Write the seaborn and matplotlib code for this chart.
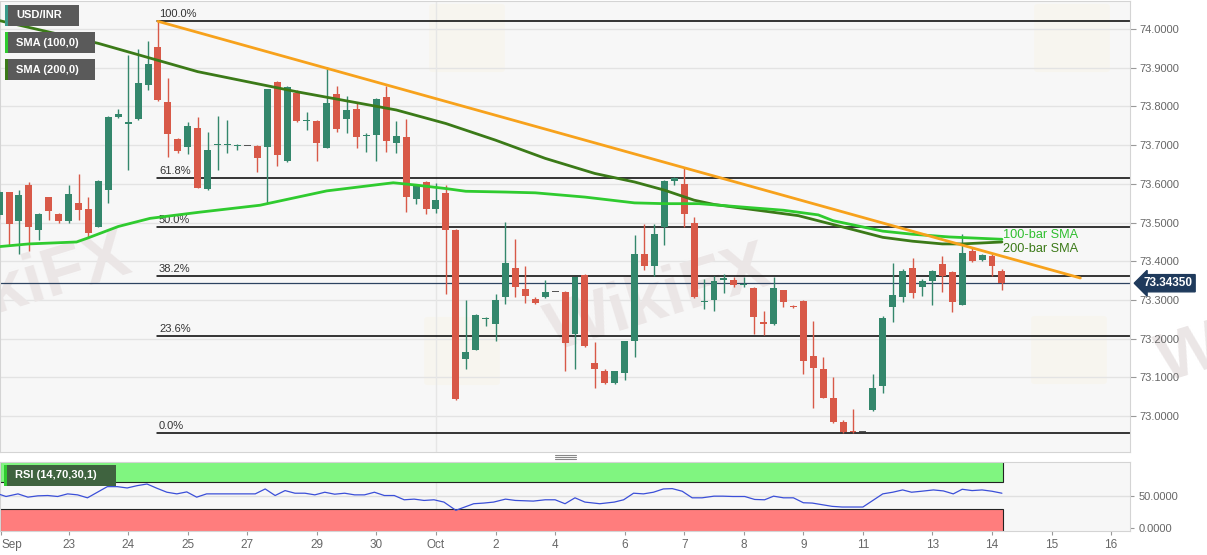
import matplotlib
matplotlib.use("Agg")
import matplotlib.pyplot as plt
from matplotlib.patches import Rectangle, FancyBboxPatch
from matplotlib.lines import Line2D
import seaborn as sns
import pandas as pd

# --- velas 4H USD/INR ---
opens = [73.520, 73.579, 73.504, 73.597, 73.480, 73.565, 73.523, 73.503, 73.551, 73.535,
         73.490, 73.585, 73.774, 73.754, 73.767, 73.855, 73.953, 73.811, 73.716, 73.696,
         73.745, 73.587, 73.700, 73.700, 73.698, 73.698, 73.698, 73.696, 73.864, 73.659,
         73.834, 73.763, 73.763, 73.694, 73.832, 73.767, 73.794, 73.723, 73.726, 73.824,
         73.706, 73.722, 73.562, 73.605, 73.536, 73.577, 73.482, 73.149, 73.172, 73.252,
         73.238, 73.307, 73.382, 73.329, 73.303, 73.307, 73.321, 73.321, 73.212, 73.366,
         73.138, 73.117, 73.085, 73.111, 73.193, 73.420, 73.389, 73.490, 73.608, 73.601,
         73.499, 73.294, 73.301, 73.353, 73.352, 73.338, 73.331, 73.243, 73.238, 73.325,
         73.284, 73.297, 73.156, 73.122, 73.048, 72.984, 72.962, 72.958, 73.015, 73.077,
         73.281, 73.307, 73.382, 73.333, 73.350, 73.392, 73.372, 73.288, 73.426, 73.404,
         73.415, 73.376]
highs = [73.585, 73.580, 73.585, 73.605, 73.525, 73.567, 73.525, 73.597, 73.625, 73.566,
         73.610, 73.776, 73.793, 73.933, 73.948, 73.970, 74.020, 73.873, 73.718, 73.761,
         73.772, 73.735, 73.775, 73.765, 73.703, 73.698, 73.700, 73.846, 73.867, 73.853,
         73.843, 73.787, 73.765, 73.903, 73.853, 73.826, 73.810, 73.732, 73.821, 73.853,
         73.763, 73.768, 73.600, 73.607, 73.603, 73.598, 73.484, 73.299, 73.265, 73.255,
         73.316, 73.502, 73.459, 73.388, 73.307, 73.352, 73.321, 73.323, 73.360, 73.368,
         73.191, 73.122, 73.118, 73.195, 73.467, 73.496, 73.496, 73.610, 73.618, 73.640,
         73.515, 73.355, 73.361, 73.368, 73.360, 73.359, 73.333, 73.271, 73.359, 73.327,
         73.286, 73.300, 73.245, 73.154, 73.100, 72.990, 73.018, 72.958, 73.110, 73.258,
         73.395, 73.381, 73.409, 73.355, 73.378, 73.414, 73.375, 73.471, 73.438, 73.419,
         73.420, 73.381]
lows = [73.510, 73.441, 73.420, 73.428, 73.454, 73.506, 73.500, 73.500, 73.508, 73.463,
        73.488, 73.551, 73.770, 73.637, 73.765, 73.843, 73.815, 73.670, 73.679, 73.676,
        73.590, 73.585, 73.635, 73.679, 73.688, 73.698, 73.631, 73.551, 73.646, 73.657,
        73.760, 73.739, 73.659, 73.692, 73.735, 73.731, 73.694, 73.683, 73.659, 73.683,
        73.680, 73.528, 73.549, 73.521, 73.526, 73.316, 73.042, 73.122, 73.170, 73.234,
        73.195, 73.290, 73.309, 73.293, 73.291, 73.306, 73.321, 73.116, 73.122, 73.180,
        73.074, 73.083, 73.083, 73.093, 73.154, 73.378, 73.361, 73.443, 73.597, 73.490,
        73.305, 73.277, 73.273, 73.318, 73.335, 73.333, 73.212, 73.211, 73.236, 73.281,
        73.279, 73.109, 73.021, 73.046, 72.982, 72.956, 72.956, 72.958, 73.013, 73.059,
        73.243, 73.294, 73.306, 73.310, 73.286, 73.320, 73.268, 73.286, 73.399, 73.402,
        73.361, 73.326]
closes = [73.579, 73.497, 73.572, 73.489, 73.523, 73.529, 73.503, 73.575, 73.532, 73.473,
          73.607, 73.774, 73.780, 73.761, 73.860, 73.909, 73.817, 73.730, 73.685, 73.749,
          73.590, 73.687, 73.703, 73.701, 73.699, 73.698, 73.666, 73.844, 73.674, 73.851,
          73.763, 73.764, 73.705, 73.810, 73.741, 73.791, 73.722, 73.724, 73.819, 73.711,
          73.724, 73.565, 73.597, 73.535, 73.558, 73.482, 73.044, 73.167, 73.262, 73.253,
          73.300, 73.396, 73.335, 73.310, 73.293, 73.321, 73.321, 73.188, 73.359, 73.182,
          73.122, 73.085, 73.116, 73.193, 73.420, 73.387, 73.470, 73.608, 73.616, 73.523,
          73.307, 73.296, 73.349, 73.355, 73.339, 73.340, 73.257, 73.238, 73.331, 73.296,
          73.281, 73.142, 73.124, 73.048, 72.984, 72.960, 72.958, 72.958, 73.074, 73.253,
          73.312, 73.374, 73.318, 73.350, 73.374, 73.361, 73.294, 73.421, 73.402, 73.417,
          73.387, 73.3435]

# medias moviles
sma100_x = [0, 3, 7.8, 8.8, 12, 15.2, 20.2, 26.3, 27, 33, 39.7, 42, 45, 47, 51, 54, 59,
            64, 67, 70.5, 74, 79, 82.5, 84, 89, 92, 95.7, 101]
sma100_y = [73.438, 73.445, 73.450, 73.459, 73.490, 73.511, 73.527, 73.545, 73.549, 73.582,
            73.603, 73.597, 73.588, 73.581, 73.579, 73.577, 73.566, 73.551, 73.549, 73.549,
            73.542, 73.532, 73.520, 73.505, 73.478, 73.470, 73.463, 73.457]
sma200_x = [0, 10, 20, 30, 40, 45, 50, 55, 60, 64, 67, 70, 72, 77, 80.5, 84, 86, 89, 92,
            95, 97, 101]
sma200_y = [74.022, 73.963, 73.890, 73.838, 73.791, 73.756, 73.713, 73.666, 73.627, 73.605,
            73.584, 73.558, 73.547, 73.530, 73.518, 73.495, 73.482, 73.462, 73.452, 73.445,
            73.445, 73.450]

# linea de tendencia bajista
trend_x = [16, 108.9]
trend_y = [74.020, 73.357]

# Fibonacci
fib_high = 74.021
fib_low = 72.956
fib_ratios = [1.0, 0.618, 0.5, 0.382, 0.236, 0.0]
fib_labels = ["100.0%", "61.8%", "50.0%", "38.2%", "23.6%", "0.0%"]

last_price = 73.3435

# RSI
rsi_x = [-0.1, 0.7, 1.9, 2.9, 3.9, 4.9, 5.9, 6.9, 7.9, 8.9, 9.9, 10.9, 11.9, 12.9, 13.9,
         14.9, 15.9, 16.9, 17.9, 18.9, 19.9, 20.9, 25.8, 26.8, 27.8, 28.8, 29.8, 30.8,
         31.8, 32.8, 33.8, 34.8, 35.8, 36.8, 37.8, 38.8, 39.8, 40.8, 41.8, 42.8, 43.8,
         44.8, 46.0, 47.8, 48.8, 49.8, 51.0, 52.0, 53.8, 55.0, 56.0, 57.0, 58.0, 59.0,
         60.5, 61.96, 62.9, 63.9, 64.9, 65.9, 66.9, 67.8, 68.8, 69.8, 70.8, 72.0, 72.9,
         73.9, 75.1, 76.1, 77.1, 78.0, 79.0, 80.0, 81.0, 81.9, 82.9, 83.9, 84.9, 85.9,
         87.0, 88.0, 89.0, 90.0, 91.0, 91.9, 92.9, 94.1, 95.1, 96.1, 97.0, 98.0, 99.0,
         100.0, 101.0]
rsi_y = [52.5, 48.5, 52.5, 47.5, 49.5, 50, 48.5, 52.5, 51, 46.5, 55, 63.5, 63.5, 61.5, 65,
         67.5, 61, 55, 52.5, 55.5, 47.5, 52.5, 52.5, 60, 50, 57.5, 53.5, 53.5, 51, 55, 52,
         53.5, 51, 51, 55, 50, 50, 43.5, 44.5, 42.5, 43.5, 40, 27.5, 37.5, 38.5, 40, 44.5,
         42.5, 41.5, 43.5, 43.5, 37.5, 46.5, 40, 37.5, 40, 43.5, 53.5, 52.5, 55, 60, 60.5,
         56.5, 46.5, 46.5, 49, 49, 48.5, 48.5, 44, 43.5, 49, 46.5, 46.5, 39, 38.5, 36,
         33.5, 32.5, 32.5, 32.5, 42.5, 52.5, 55, 58.5, 55, 56.5, 58.5, 57, 52.5, 59.5,
         57.5, 58.5, 56.5, 53.5]

tick_pos = [0.2, 7, 13, 19, 25, 32, 38, 44, 50, 56, 63, 69, 75, 81, 87, 94, 100, 106, 112]
tick_lab = ["Sep", "23", "24", "25", "27", "29", "30", "Oct", "2", "4", "6", "7", "8", "9",
            "11", "13", "14", "15", "16"]

sns.set_style("white")
plt.rcParams["font.family"] = ["Liberation Sans", "DejaVu Sans"]

W, H = 1207, 555
fig = plt.figure(figsize=(W / 100, H / 100), dpi=100)
fig.patch.set_facecolor("white")


def fbox(x0, y0, x1, y1):
    return [x0 / W, 1 - y1 / H, (x1 - x0) / W, (y1 - y0) / H]


ax = fig.add_axes(fbox(0, 1, 1130, 452))
ax2 = fig.add_axes(fbox(0, 462, 1130, 531))
XL = (0.09, 113.9)

green = "#34876c"
red = "#d85948"

# logos de fondo (muy tenues, detras de los ejes)
for (lx, ly) in [(428, 0), (1033, 0), (423, 313), (1030, 312)]:
    fig.add_artist(FancyBboxPatch(((lx + 6) / W, 1 - (ly + 70) / H), 66 / W, 64 / H,
                                  boxstyle="round,pad=0.004", transform=fig.transFigure,
                                  fc="#f6dc8c", ec="none", alpha=0.6, zorder=-5))

# --- panel principal ---
ax.set_facecolor("#f7f7f7")
ax.patch.set_alpha(0.88)
ax.set_xlim(*XL)
ax.set_ylim(72.9075, 74.0725)
yt = [73.0 + 0.1 * k for k in range(11)]
ax.set_yticks(yt)
ax.set_yticklabels([f"{v:.4f}" for v in yt])
ax.yaxis.tick_right()
ax.tick_params(axis="y", colors="#999999", labelcolor="#666666", labelsize=8,
               length=4, pad=3, right=True)
ax.set_xticks([])
for v in yt:
    ax.axhline(v, color="#e3e3e3", lw=1, zorder=0)
ax.axvline(44, color="#e6e6e6", lw=1, zorder=0)
for s in ax.spines.values():
    s.set_color("#d4d4d4")

# marcas de agua
wm = dict(fontsize=50, fontweight="bold", color="#ebe6e6", rotation=17,
          ha="center", va="center", zorder=0.5)
ax.text(2, 73.33, "WikiFX", clip_on=True, **wm)
ax.text(66.5, 73.30, "WikiFX", clip_on=True, **wm)
ax.text(128, 73.22, "WikiFX", clip_on=False, **wm)

# Fibonacci
for r, lab in zip(fib_ratios, fib_labels):
    lvl = fib_low + r * (fib_high - fib_low)
    ax.plot([15.9, XL[1]], [lvl, lvl], color="black", lw=1.1, zorder=2)
    ax.annotate(lab, (16.1, lvl), xytext=(0, 1.5), textcoords="offset points",
                fontsize=8, color="#333333", ha="left", va="bottom")

# precio actual
ax.axhline(last_price, color="#2d4361", lw=0.9, zorder=2)

# velas
df = pd.DataFrame({"o": opens, "h": highs, "l": lows, "c": closes})
df["x"] = range(len(df))
cols = []
for o, c in zip(df.o, df.c):
    if abs(c - o) < 0.0006:
        cols.append("#555555")
    elif c > o:
        cols.append(green)
    else:
        cols.append(red)
ax.vlines(df.x, df.l, df.h, colors=cols, lw=1, zorder=3)
body_lo = df[["o", "c"]].min(axis=1)
body_h = (df.c - df.o).abs().clip(lower=0.0028)
ax.bar(df.x, body_h, bottom=body_lo, width=0.7, color=cols, zorder=4, linewidth=0)

# medias y tendencia
sns.lineplot(x=sma200_x, y=sma200_y, ax=ax, color="#3b7a18", lw=2, zorder=5)
sns.lineplot(x=sma100_x, y=sma100_y, ax=ax, color="#2fcb2f", lw=2, zorder=5)
sns.lineplot(x=trend_x, y=trend_y, ax=ax, color="#f7a21c", lw=2, zorder=6)

ax.text(101.1, 73.469, "100-bar SMA", color="#2fbf2f", fontsize=9.2, va="center", ha="left")
ax.text(101.1, 73.433, "200-bar SMA", color="#3b7a18", fontsize=9.2, va="center", ha="left")

ax.text(1.012, last_price, "73.34350", transform=ax.get_yaxis_transform(),
        fontsize=8.5, fontweight="bold", color="white", ha="left", va="center",
        bbox=dict(boxstyle="larrow,pad=0.22", fc="#1f3a5c", ec="#1f3a5c"), zorder=10,
        clip_on=False)

# --- panel RSI ---
ax2.set_facecolor("#f7f7f7")
ax2.set_xlim(*XL)
ax2.set_ylim(-4, 101)
ax2.add_patch(Rectangle((XL[0], 70), 101.1 - XL[0], 32, fc="#80f580", ec="#222222", lw=0.8,
                        zorder=1))
ax2.add_patch(Rectangle((XL[0], -5), 101.1 - XL[0], 35, fc="#ff7d7d", ec="#222222", lw=0.8,
                        zorder=1))
ax2.axhline(50, color="#e0e0e0", lw=1, zorder=0.5)
ax2.axvline(44, color="#e6e6e6", lw=1, zorder=0.5)
sns.lineplot(x=rsi_x, y=rsi_y, ax=ax2, color="#3b4fd8", lw=0.9, zorder=3)
ax2.yaxis.tick_right()
ax2.set_yticks([0, 50])
ax2.set_yticklabels(["0.0000", "50.0000"])
ax2.set_xticks(tick_pos)
ax2.set_xticklabels(tick_lab)
ax2.get_xticklabels()[0].set_horizontalalignment("left")
ax2.tick_params(axis="both", colors="#999999", labelcolor="#666666", labelsize=8.5,
                length=3, pad=3)
ax2.tick_params(axis="y", right=True, labelsize=8)
ax2.tick_params(axis="x", bottom=True)
for s in ax2.spines.values():
    s.set_color("#d4d4d4")


# etiquetas tipo leyenda
def label_box(x0, y0, x1, y1, txt, strip, fc="#5a5a5a"):
    fig.add_artist(Rectangle((x0 / W, 1 - y1 / H), (x1 - x0) / W, (y1 - y0) / H,
                             transform=fig.transFigure, fc=fc, ec="none", zorder=20))
    fig.add_artist(Rectangle((x0 / W, 1 - y1 / H), 2.5 / W, (y1 - y0) / H,
                             transform=fig.transFigure, fc=strip, ec="none", zorder=21))
    fig.text((x0 + 11) / W, 1 - (y0 + y1) / 2 / H, txt, color="white", fontsize=8,
             fontweight="bold", va="center", ha="left", zorder=22)


label_box(5, 5, 79, 26, "USD/INR", "#3a9a8a")
label_box(5, 32, 95, 53, "SMA (100,0)", "#2fcb2f")
label_box(5, 59, 95, 80, "SMA (200,0)", "#3b7a18")
label_box(4, 465, 116, 486, "RSI (14,70,30,1)", "#2fcb2f", fc="#3f633f")

# separador de paneles
for dy in (454.5, 456.5, 458.5):
    fig.add_artist(Line2D([555 / W, 576 / W], [1 - dy / H, 1 - dy / H], color="#888888",
                          lw=0.8, transform=fig.transFigure))

fig.savefig("out.png", dpi=100, facecolor="white")
